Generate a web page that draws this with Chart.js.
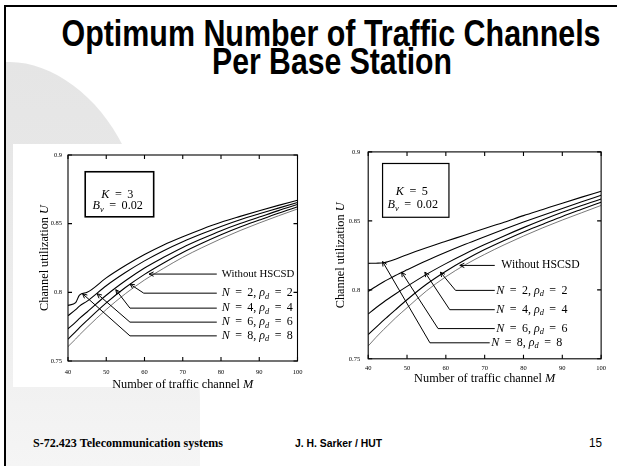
<!DOCTYPE html>
<html>
<head>
<meta charset="utf-8">
<script src="https://cdn.jsdelivr.net/npm/chart.js@4.4.0/dist/chart.umd.min.js"></script>
<style>
html, body { margin: 0; padding: 0; background: #fff; }
#slide { position: relative; width: 617px; height: 466px; overflow: hidden; background: #fff; }
#bg { position: absolute; left: 0; top: 0; }
.paper { position: absolute; background: #fff; }
canvas { position: absolute; }
</style>
</head>
<body>
<div id="slide">
  <svg id="bg" width="617" height="466">
    <defs>
      <linearGradient id="shade" x1="0" y1="0" x2="0" y2="1">
        <stop offset="0" stop-color="#e5e5e5"/>
        <stop offset="0.25" stop-color="#e7e7e7"/>
        <stop offset="0.8" stop-color="#f1f1f1"/>
        <stop offset="1" stop-color="#f5f5f5"/>
      </linearGradient>
    </defs>
    <path d="M6,62 C50,60 98,95 123,146 C170,240 200,320 200,400 L200,466 L6,466 Z" fill="url(#shade)"/>
    <rect x="4" y="5" width="613" height="2" fill="#000"/>
    <rect x="4" y="5" width="2" height="461" fill="#000"/>
    <text x="331" y="46" text-anchor="middle" font-family="'Liberation Sans',Arial,sans-serif" font-weight="bold" font-size="37" textLength="539" lengthAdjust="spacingAndGlyphs">Optimum Number of Traffic Channels</text>
    <text x="332" y="74" text-anchor="middle" font-family="'Liberation Sans',Arial,sans-serif" font-weight="bold" font-size="37" textLength="240" lengthAdjust="spacingAndGlyphs">Per Base Station</text>
    <text x="33" y="447" font-family="'Liberation Serif','Times New Roman',serif" font-weight="bold" font-size="12.5" textLength="190" lengthAdjust="spacingAndGlyphs">S-72.423 Telecommunication systems</text>
    <text x="295" y="447" font-family="'Liberation Sans',Arial,sans-serif" font-weight="bold" font-size="10.5" textLength="87" lengthAdjust="spacingAndGlyphs">J. H. Sarker / HUT</text>
    <text x="589" y="447" font-family="'Liberation Sans',Arial,sans-serif" font-size="12" textLength="13" lengthAdjust="spacingAndGlyphs">15</text>
  </svg>
  <div class="paper" style="left:13px;top:144px;width:307px;height:243px"></div>
  <canvas id="chartK3" width="307" height="246" style="left:13px;top:144px"></canvas>
  <canvas id="chartK5" width="292" height="252" style="left:320px;top:140px"></canvas>
</div>
<script>
'use strict';

// ---- data ----
const seriesNames = ['Without HSCSD', '*N* = 2, *ρ*_d = 2', '*N* = 4, *ρ*_d = 4', '*N* = 6, *ρ*_d = 6', '*N* = 8, *ρ*_d = 8'];

// K = 3
const mK3 = [40, 42, 43, 45, 50, 55, 60, 65, 70, 75, 80, 85, 90, 95, 100];
const k3Without = [0.7605, 0.766, 0.769, 0.7745, 0.7875, 0.799, 0.809, 0.8175, 0.8255, 0.8325, 0.839, 0.845, 0.8505, 0.8557, 0.8607];
const k3N2 = [0.7659, 0.7714, 0.7743, 0.7796, 0.7923, 0.8035, 0.8131, 0.8214, 0.829, 0.8357, 0.8419, 0.8475, 0.8526, 0.8576, 0.8623];
const k3N4 = [0.7735, 0.7783, 0.781, 0.7857, 0.7979, 0.8084, 0.8177, 0.8255, 0.8327, 0.839, 0.8449, 0.8501, 0.8548, 0.8595, 0.8639];
const k3N6 = [0.783, 0.7874, 0.790, 0.7936, 0.8048, 0.8144, 0.8229, 0.8303, 0.8368, 0.8426, 0.848, 0.8529, 0.8572, 0.8613, 0.8654];
const k3N8 = [0.7905, 0.7925, 0.798, 0.800, 0.8105, 0.8195, 0.8275, 0.8345, 0.8405, 0.846, 0.851, 0.8553, 0.8594, 0.8633, 0.867];

// K = 5
const mK5 = [40, 42, 44, 45, 47, 50, 55, 60, 65, 70, 75, 80, 85, 90, 95, 100];
const k5Without = [0.7593, 0.7655, 0.7713, 0.774, 0.7795, 0.787, 0.7992, 0.8095, 0.8182, 0.8257, 0.8326, 0.839, 0.845, 0.8506, 0.8559, 0.8612];
const k5N2 = [0.7675, 0.7728, 0.778, 0.7805, 0.7855, 0.7928, 0.804, 0.8135, 0.8218, 0.8292, 0.8358, 0.842, 0.8476, 0.8532, 0.8584, 0.8635];
const k5N4 = [0.7825, 0.787, 0.7912, 0.7932, 0.797, 0.8025, 0.8112, 0.819, 0.8262, 0.8328, 0.8391, 0.8451, 0.8508, 0.8562, 0.8612, 0.8658];
const k5N6 = [0.7988, 0.8024, 0.8058, 0.8074, 0.8104, 0.8145, 0.8211, 0.8272, 0.833, 0.8385, 0.8439, 0.8491, 0.8541, 0.859, 0.8638, 0.8685];
const k5N8 = [0.8192, 0.8193, 0.8196, 0.8203, 0.8222, 0.8255, 0.8305, 0.8352, 0.8398, 0.8445, 0.849, 0.8538, 0.8583, 0.8628, 0.8672, 0.8715];

const xTicks = [40, 50, 60, 70, 80, 90, 100];
const xTickLabels = ['40', '50', '60', '70', '80', '90', '100'];
const yTicks = [0.75, 0.8, 0.85, 0.9];
const yTickLabels = ['0.75', '0.8', '0.85', '0.9'];
const xTitle = 'Number of traffic channel *M*';
const yTitle = 'Channel utilization *U*';

// ---- annotation layout (in data units) ----
const annK3 = {
    box: [44.5, 0.8878, 62.4, 0.855], boxWidth: 1.6,
    boxText: [[48.7, 0.8708, '*K* = 3'], [46.4, 0.8627, '*B*_v = 0.02']],
    arrows: [
        [[61.2, 0.8133], [78.9, 0.8133]],
        [[56.2, 0.806], [59.8, 0.7994], [78.9, 0.7994]],
        [[52.5, 0.8019], [56.2, 0.7885], [78.9, 0.7885]],
        [[47.6, 0.799], [56.2, 0.7783], [78.9, 0.7783]],
        [[43.8, 0.799], [56.2, 0.7683], [78.9, 0.7683]]
    ],
    labelX: [80.2, 80.2, 80.2, 80.2, 80.2],
    plainSize: 10.8,
    yTitleOff: -23, xTitleOff: 24
};
const annK5 = {
    box: [43.7, 0.8916, 60.8, 0.8526], boxWidth: 1.2,
    boxText: [[47.1, 0.8711, '*K* = 5'], [45.0, 0.8615, '*B*_v = 0.02']],
    arrows: [
        [[63.6, 0.8177], [72.6, 0.8177]],
        [[58.6, 0.8128], [62.5, 0.7996], [72.6, 0.7996]],
        [[54.6, 0.8128], [61.0, 0.7856], [72.6, 0.7856]],
        [[48.6, 0.8128], [58.0, 0.7719], [72.6, 0.7719]],
        [[43.7, 0.8205], [55.9, 0.7616], [71.3, 0.7616]]
    ],
    labelX: [74.3, 73.0, 73.0, 73.0, 71.7],
    plainSize: 11.7,
    yTitleOff: -27.5, xTitleOff: 19.5
};

const SERIF = '"Liberation Serif", "Times New Roman", serif';

// tiny markup: *x* italic, _x italic subscript, " = " with a bit more room
function parse(str) {
    const out = [];
    str.split(/(\*[^*]+\*|_\w| = )/).forEach(function (p) {
        if (!p) return;
        if (p[0] === '*') out.push({ t: p.slice(1, -1), it: true });
        else if (p[0] === '_') out.push({ t: p.slice(1), it: true, sub: true });
        else if (p === ' = ') out.push({ sp: 0.2 }, { t: ' = ' }, { sp: 0.2 });
        else out.push({ t: p });
    });
    return out;
}
function fontFor(s, size) {
    return (s.it ? 'italic ' : '') + (s.sub ? size * 0.7 : size) + 'px ' + SERIF;
}
function segW(ctx, s, size) {
    if (s.sp) return s.sp * size;
    ctx.font = fontFor(s, size);
    return ctx.measureText(s.t).width;
}
function drawRich(ctx, str, x, y, size, align) {
    const segs = parse(str);
    const w = segs.reduce(function (a, s) { return a + segW(ctx, s, size); }, 0);
    let cx = align === 'center' ? x - w / 2 : x;
    ctx.textAlign = 'left';
    ctx.textBaseline = 'middle';
    segs.forEach(function (s) {
        if (!s.sp) {
            ctx.font = fontFor(s, size);
            ctx.fillText(s.t, cx, y + (s.sub ? size * 0.28 : 0));
        }
        cx += segW(ctx, s, size);
    });
}

const decoPlugin = {
    id: 'deco',
    afterDatasetsDraw(chart, args, ann) {
        const ctx = chart.ctx;
        const a = chart.chartArea;
        const x = chart.scales.x, y = chart.scales.y;
        const px = function (v) { return x.getPixelForValue(v); };
        const py = function (v) { return y.getPixelForValue(v); };
        ctx.save();
        ctx.strokeStyle = '#000';
        ctx.fillStyle = '#000';

        // frame and inward ticks on all four sides
        ctx.lineWidth = 1.1;
        ctx.strokeRect(a.left, a.top, a.right - a.left, a.bottom - a.top);
        ctx.beginPath();
        xTicks.forEach(function (v) {
            const p = px(v);
            ctx.moveTo(p, a.bottom); ctx.lineTo(p, a.bottom - 4);
            ctx.moveTo(p, a.top); ctx.lineTo(p, a.top + 4);
        });
        yTicks.forEach(function (v) {
            const p = py(v);
            ctx.moveTo(a.left, p); ctx.lineTo(a.left + 4, p);
            ctx.moveTo(a.right, p); ctx.lineTo(a.right - 4, p);
        });
        ctx.stroke();

        // parameter box
        const b = ann.box;
        ctx.lineWidth = ann.boxWidth;
        ctx.strokeRect(px(b[0]), py(b[1]), px(b[2]) - px(b[0]), py(b[3]) - py(b[1]));
        ann.boxText.forEach(function (t) { drawRich(ctx, t[2], px(t[0]), py(t[1]), 12.2, 'left'); });

        // arrows with labels
        ctx.lineWidth = 1;
        ann.arrows.forEach(function (pts, i) {
            ctx.beginPath();
            pts.forEach(function (p, j) {
                if (j === 0) ctx.moveTo(px(p[0]), py(p[1])); else ctx.lineTo(px(p[0]), py(p[1]));
            });
            ctx.stroke();
            const tx = px(pts[0][0]), ty = py(pts[0][1]);
            const ang = Math.atan2(ty - py(pts[1][1]), tx - px(pts[1][0]));
            ctx.beginPath();
            ctx.moveTo(tx - 5 * Math.cos(ang - 0.45), ty - 5 * Math.sin(ang - 0.45));
            ctx.lineTo(tx, ty);
            ctx.lineTo(tx - 5 * Math.cos(ang + 0.45), ty - 5 * Math.sin(ang + 0.45));
            ctx.stroke();
            const last = pts[pts.length - 1];
            drawRich(ctx, seriesNames[i], px(ann.labelX[i]), py(last[1]), i === 0 ? ann.plainSize : 12, 'left');
        });

        // axis titles
        drawRich(ctx, xTitle, (a.left + a.right) / 2, a.bottom + ann.xTitleOff, 12.3, 'center');
        ctx.translate(a.left + ann.yTitleOff, (a.top + a.bottom) / 2);
        ctx.rotate(-Math.PI / 2);
        drawRich(ctx, yTitle, 0, 0, 12.3, 'center');
        ctx.restore();
    }
};

function makeChart(id, ms, rows, ann, pad, yWidth, xHeight, xPad, yPad) {
    const datasets = rows.map(function (vals, i) {
        return {
            label: seriesNames[i],
            data: ms.map(function (m, j) { return { x: m, y: vals[j] }; }),
            borderColor: i === 0 ? '#555' : '#000',
            borderWidth: i === 0 ? 0.8 : 1.1,
            pointRadius: 0,
            cubicInterpolationMode: 'monotone',
            fill: false
        };
    });
    return new Chart(document.getElementById(id), {
        type: 'line',
        data: { datasets: datasets },
        options: {
            responsive: false,
            animation: false,
            devicePixelRatio: 1,
            layout: { padding: pad },
            plugins: { legend: { display: false }, tooltip: { enabled: false }, deco: ann },
            scales: {
                x: {
                    type: 'linear', min: 40, max: 100,
                    afterBuildTicks: function (s) { s.ticks = xTicks.map(function (v) { return { value: v }; }); },
                    afterFit: function (s) { s.height = xHeight; },
                    ticks: {
                        padding: xPad, color: '#000', maxRotation: 0, autoSkip: false,
                        font: { family: SERIF, size: 6.5 },
                        callback: function (v, i) { return xTickLabels[i]; }
                    },
                    grid: { display: false, drawTicks: false },
                    border: { display: false }
                },
                y: {
                    type: 'linear', min: 0.75, max: 0.9,
                    afterBuildTicks: function (s) { s.ticks = yTicks.map(function (v) { return { value: v }; }); },
                    afterFit: function (s) { s.width = yWidth; },
                    ticks: {
                        padding: yPad, color: '#000', autoSkip: false,
                        font: { family: SERIF, size: 6.5 },
                        callback: function (v, i) { return yTickLabels[i]; }
                    },
                    grid: { display: false, drawTicks: false },
                    border: { display: false }
                }
            }
        },
        plugins: [decoPlugin]
    });
}

makeChart('chartK3', mK3, [k3Without, k3N2, k3N4, k3N6, k3N8], annK3,
    { left: 0, top: 11, right: 22.5, bottom: 0 }, 55, 29, 7, 6);
makeChart('chartK5', mK5, [k5Without, k5N2, k5N4, k5N6, k5N8], annK5,
    { left: 0, top: 11.4, right: 10.5, bottom: 0 }, 48.2, 33.2, 6, 8);
</script>
</body>
</html>
